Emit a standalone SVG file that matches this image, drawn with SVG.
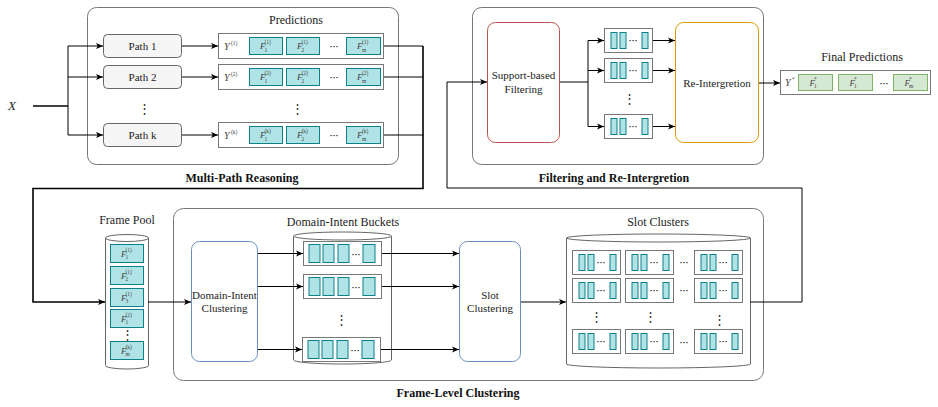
<svg xmlns="http://www.w3.org/2000/svg" xmlns:xlink="http://www.w3.org/1999/xlink" width="938" height="407" viewBox="0 0 938 407">
<style>
text{font-family:"Liberation Serif","DejaVu Serif",serif;fill:#222}
.lbl{font-size:11px;text-anchor:middle}
.ttl{font-size:12px;text-anchor:middle}
.bold{font-size:12px;font-weight:bold;text-anchor:middle;fill:#111}
.cont{fill:#fff;stroke:#777;stroke-width:1}
.path{fill:#f5f5f5;stroke:#666;stroke-width:1}
.box{fill:#fff;stroke:#777;stroke-width:1}
.teal{fill:#b0e3e6;stroke:#0e8088;stroke-width:1}
.green{fill:#d5e8d4;stroke:#82b366;stroke-width:1}
.cyl{fill:#fff;stroke:#666;stroke-width:1}
.mi{font-size:9px;font-style:italic;fill:#444}
.ms{font-size:5.5px;fill:#444}
.dots{font-size:9px;font-weight:bold;text-anchor:middle;fill:#333}
.vd{font-size:13px;text-anchor:middle;fill:#333}
.ln{fill:none;stroke:#000;stroke-width:1}
.lnb{fill:none;stroke:#000;stroke-width:1.6}
.ar{marker-end:url(#ah)}
</style>
<defs>
<marker id="ah" viewBox="0 0 8 8" refX="8" refY="4" markerWidth="7" markerHeight="7" markerUnits="userSpaceOnUse" orient="auto"><path d="M0,0.5 L8,4 L0,7.5 L2,4 Z" fill="#000"/></marker>
<g id="sb">
<rect x="0.5" y="0.5" width="48" height="24" class="box"/>
<rect x="7" y="4.5" width="6" height="16" class="teal"/>
<rect x="16" y="4.5" width="6" height="16" class="teal"/>
<text x="29" y="15" class="dots">···</text>
<rect x="38" y="4.5" width="6" height="16" class="teal"/>
</g>
<g id="bb">
<rect x="0.5" y="0.5" width="78" height="24" class="box"/>
<rect x="6" y="3.5" width="11" height="18" class="teal"/>
<rect x="20" y="3.5" width="11" height="18" class="teal"/>
<rect x="35" y="3.5" width="11" height="18" class="teal"/>
<text x="53" y="16" class="dots">···</text>
<rect x="60" y="3.5" width="12" height="18" class="teal"/>
</g>
</defs>
<rect width="938" height="407" fill="#fff"/>

<!-- containers -->
<g id="multi-path-reasoning">
<rect x="87.5" y="7.5" width="311" height="157" rx="9" class="cont"/>
<text x="242" y="182" class="bold">Multi-Path Reasoning</text>
<text x="296" y="24" class="ttl">Predictions</text>
</g>
<g id="filtering-reintegration">
<rect x="472.5" y="7.5" width="291" height="157" rx="9" class="cont"/>
<text x="614" y="182" class="bold">Filtering and Re-Intergretion</text>
</g>
<g id="frame-level-clustering">
<rect x="173.5" y="208.5" width="590" height="172" rx="10" class="cont"/>
<text x="458" y="397" class="bold">Frame-Level Clustering</text>
</g>

<!-- input -->
<g id="x-input"><text x="12" y="110" style="font-size:13px;font-style:italic;text-anchor:middle">X</text></g>

<!-- paths -->
<g id="path1"><rect x="103.5" y="34.5" width="78" height="23" rx="4" class="path"/><text x="142.5" y="50" class="lbl">Path 1</text></g>
<g id="path2"><rect x="103.5" y="65.5" width="78" height="23" rx="4" class="path"/><text x="142.5" y="81" class="lbl">Path 2</text></g>
<g id="path-dots"><text x="144" y="113" class="vd">⋮</text></g>
<g id="pathk"><rect x="103.5" y="123.5" width="78" height="23" rx="4" class="path"/><text x="142.5" y="139" class="lbl">Path k</text></g>

<!-- predictions -->
<g id="pred1">
<rect x="218.5" y="33.5" width="165" height="25" class="box"/>
<text x="224" y="50" class="mi" style="font-size:10px">Y</text><text x="231" y="44.5" class="ms">(1)</text>
<rect x="249.5" y="37.5" width="33" height="17" class="teal"/>
<text x="260" y="49" class="mi">F</text><text x="264.5" y="44" class="ms">(1)</text><text x="264.5" y="51.5" class="ms">1</text>
<rect x="286.5" y="37.5" width="33" height="17" class="teal"/>
<text x="297" y="49" class="mi">F</text><text x="301.5" y="44" class="ms">(1)</text><text x="301.5" y="51.5" class="ms">2</text>
<text x="334" y="49" class="dots">···</text>
<rect x="346.5" y="37.5" width="34" height="17" class="teal"/>
<text x="357" y="49" class="mi">F</text><text x="362" y="44" class="ms">(1)</text><text x="362" y="51.5" class="ms">m</text>
</g>
<g id="pred2">
<rect x="218.5" y="64.5" width="165" height="25" class="box"/>
<text x="224" y="81" class="mi" style="font-size:10px">Y</text><text x="231" y="75.5" class="ms">(2)</text>
<rect x="249.5" y="68.5" width="33" height="17" class="teal"/>
<text x="260" y="80" class="mi">F</text><text x="264.5" y="75" class="ms">(2)</text><text x="264.5" y="82.5" class="ms">1</text>
<rect x="286.5" y="68.5" width="33" height="17" class="teal"/>
<text x="297" y="80" class="mi">F</text><text x="301.5" y="75" class="ms">(2)</text><text x="301.5" y="82.5" class="ms">2</text>
<text x="334" y="80" class="dots">···</text>
<rect x="346.5" y="68.5" width="34" height="17" class="teal"/>
<text x="357" y="80" class="mi">F</text><text x="362" y="75" class="ms">(2)</text><text x="362" y="82.5" class="ms">m</text>
</g>
<g id="pred-dots"><text x="297" y="113" class="vd">⋮</text></g>
<g id="predk">
<rect x="218.5" y="122.5" width="165" height="25" class="box"/>
<text x="224" y="139" class="mi" style="font-size:10px">Y</text><text x="231" y="133.5" class="ms">(k)</text>
<rect x="249.5" y="126.5" width="33" height="17" class="teal"/>
<text x="260" y="138" class="mi">F</text><text x="264.5" y="133" class="ms">(k)</text><text x="264.5" y="140.5" class="ms">1</text>
<rect x="286.5" y="126.5" width="33" height="17" class="teal"/>
<text x="297" y="138" class="mi">F</text><text x="301.5" y="133" class="ms">(k)</text><text x="301.5" y="140.5" class="ms">2</text>
<text x="334" y="138" class="dots">···</text>
<rect x="346.5" y="126.5" width="34" height="17" class="teal"/>
<text x="357" y="138" class="mi">F</text><text x="362" y="133" class="ms">(k)</text><text x="362" y="140.5" class="ms">m</text>
</g>

<!-- filtering -->
<g id="support-filtering">
<rect x="487.5" y="22.5" width="72" height="120" rx="8" fill="#fff" stroke="#b85450"/>
<text x="523.5" y="79" class="lbl">Support-based</text>
<text x="523.5" y="93" class="lbl">Filtering</text>
</g>
<g id="filtered-sets">
<use xlink:href="#sb" x="604" y="28"/>
<use xlink:href="#sb" x="604" y="58"/>
<text x="629" y="103" class="vd">⋮</text>
<use xlink:href="#sb" x="604" y="114"/>
</g>
<g id="re-integration">
<rect x="675.5" y="22.5" width="83" height="120" rx="8" fill="#fff" stroke="#d79b00"/>
<text x="717" y="87" class="lbl">Re-Intergretion</text>
</g>
<g id="final-predictions">
<text x="862" y="61" class="ttl">Final Predictions</text>
<rect x="780.5" y="70.5" width="150" height="24" class="box"/>
<text x="785" y="86" class="mi" style="font-size:10px">Y</text><text x="792" y="81" class="ms">*</text>
<rect x="798.5" y="74.5" width="34" height="16" class="green"/>
<text x="809.5" y="85.5" class="mi">F</text><text x="814" y="81" class="ms">*</text><text x="814" y="88" class="ms">1</text>
<rect x="838.5" y="74.5" width="34" height="16" class="green"/>
<text x="849.5" y="85.5" class="mi">F</text><text x="854" y="81" class="ms">*</text><text x="854" y="88" class="ms">1</text>
<text x="884" y="86" class="dots">···</text>
<rect x="893.5" y="74.5" width="34" height="16" class="green"/>
<text x="904.5" y="85.5" class="mi">F</text><text x="909" y="81" class="ms">*</text><text x="909" y="88" class="ms">m</text>
</g>

<!-- frame pool -->
<g id="frame-pool">
<text x="127" y="224" class="ttl">Frame Pool</text>
<path d="M105.5,238 A21.5,3.5 0 0 1 148.5,238 L148.5,365.5 A21.5,3.5 0 0 1 105.5,365.5 Z" class="cyl"/>
<path d="M105.5,238 A21.5,3.5 0 0 0 148.5,238" class="cyl"/>
<rect x="110.5" y="244.5" width="33" height="18" class="teal"/>
<text x="121" y="256.5" class="mi">F</text><text x="125.5" y="251.5" class="ms">(1)</text><text x="125.5" y="259" class="ms">1</text>
<rect x="110.5" y="266.5" width="33" height="18" class="teal"/>
<text x="121" y="278.5" class="mi">F</text><text x="125.5" y="273.5" class="ms">(1)</text><text x="125.5" y="281" class="ms">2</text>
<rect x="110.5" y="288.5" width="33" height="18" class="teal"/>
<text x="121" y="300.5" class="mi">F</text><text x="125.5" y="295.5" class="ms">(1)</text><text x="125.5" y="303" class="ms">3</text>
<rect x="110.5" y="309.5" width="33" height="18" class="teal"/>
<text x="121" y="321.5" class="mi">F</text><text x="125.5" y="316.5" class="ms">(2)</text><text x="125.5" y="324" class="ms">1</text>
<text x="127" y="339" class="vd">⋮</text>
<rect x="110.5" y="341.5" width="33" height="18" class="teal"/>
<text x="121" y="353.5" class="mi">F</text><text x="125.5" y="348.5" class="ms">(k)</text><text x="125.5" y="356" class="ms">m</text>
</g>

<g id="domain-intent-clustering">
<rect x="191.5" y="241.5" width="66" height="120" rx="8" fill="#fff" stroke="#6c8ebf"/>
<text x="224.5" y="299" class="lbl">Domain-Intent</text>
<text x="224.5" y="312" class="lbl">Clustering</text>
</g>

<g id="domain-intent-buckets">
<text x="343" y="226" class="ttl">Domain-Intent Buckets</text>
<path d="M293.5,236 A49,4 0 0 1 391.5,236 L391.5,360 A49,4 0 0 1 293.5,360 Z" class="cyl"/>
<path d="M293.5,236 A49,4 0 0 0 391.5,236" class="cyl"/>
<use xlink:href="#bb" x="303" y="241"/>
<use xlink:href="#bb" x="303" y="274"/>
<text x="341" y="324" class="vd">⋮</text>
<use xlink:href="#bb" x="302" y="337"/>
</g>

<g id="slot-clustering">
<rect x="459.5" y="241.5" width="61" height="120" rx="8" fill="#fff" stroke="#6c8ebf"/>
<text x="490" y="299" class="lbl">Slot</text>
<text x="490" y="312" class="lbl">Clustering</text>
</g>

<g id="slot-clusters">
<text x="658" y="226" class="ttl">Slot Clusters</text>
<path d="M566.5,238 A92,4 0 0 1 750.5,238 L750.5,364 A92,4 0 0 1 566.5,364 Z" class="cyl"/>
<path d="M566.5,238 A92,4 0 0 0 750.5,238" class="cyl"/>
<use xlink:href="#sb" x="572" y="250"/>
<use xlink:href="#sb" x="625" y="250"/>
<text x="684" y="265" class="dots">···</text>
<use xlink:href="#sb" x="694" y="250"/>
<use xlink:href="#sb" x="572" y="278"/>
<use xlink:href="#sb" x="625" y="278"/>
<text x="684" y="293" class="dots">···</text>
<use xlink:href="#sb" x="694" y="278"/>
<text x="596" y="321" class="vd">⋮</text>
<text x="650" y="321" class="vd">⋮</text>
<text x="719" y="324" class="vd">⋮</text>
<use xlink:href="#sb" x="572" y="329"/>
<use xlink:href="#sb" x="625" y="329"/>
<text x="684" y="345" class="dots">···</text>
<use xlink:href="#sb" x="694" y="329"/>
</g>

<!-- connectors -->
<g id="connectors">
<path d="M33,106 H68" class="lnb"/>
<path d="M68,46 V135" class="ln"/>
<path d="M68,46 H103" class="ln ar"/>
<path d="M68,77 H103" class="ln ar"/>
<path d="M68,135 H103" class="ln ar"/>
<path d="M182,46 H218" class="ln ar"/>
<path d="M182,77 H218" class="ln ar"/>
<path d="M182,135 H218" class="ln ar"/>
<path d="M384,46 H423" class="ln"/>
<path d="M384,77 H423" class="ln"/>
<path d="M384,135 H423" class="ln"/>
<path d="M423,46 V188.5 H33 V302 H105" class="lnb ar"/>
<path d="M148,302 H191" class="ln ar"/>
<path d="M258,253.5 H303" class="ln ar"/>
<path d="M258,286.5 H303" class="ln ar"/>
<path d="M258,349.5 H302" class="ln ar"/>
<path d="M382,253.5 H459" class="ln ar"/>
<path d="M382,286.5 H459" class="ln ar"/>
<path d="M381,349.5 H459" class="ln ar"/>
<path d="M521,302 H566" class="ln ar"/>
<path d="M750,302 H802 V188 H447 V82 H487" class="ln ar"/>
<path d="M560,82 H588" class="ln"/>
<path d="M588,40.5 V126.5" class="ln"/>
<path d="M588,40.5 H604" class="ln ar"/>
<path d="M588,70.5 H604" class="ln ar"/>
<path d="M588,126.5 H604" class="ln ar"/>
<path d="M653,40.5 H675" class="ln ar"/>
<path d="M653,70.5 H675" class="ln ar"/>
<path d="M653,126.5 H675" class="ln ar"/>
<path d="M759,83 H780" class="ln ar"/>
</g>
</svg>
